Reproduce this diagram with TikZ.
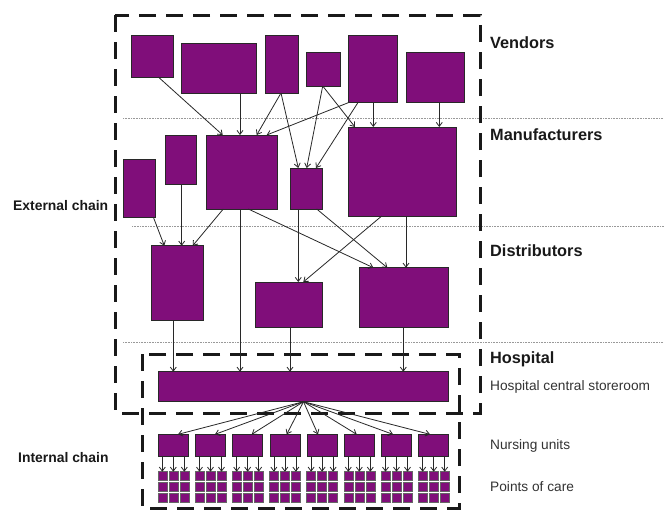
\documentclass[tikz,border=0pt]{standalone}
\usepackage{fontspec}
\setmainfont{Liberation Sans}
\usetikzlibrary{arrows.meta}
\definecolor{purp}{RGB}{128,14,122}
\definecolor{edgec}{RGB}{40,40,40}
\newcommand\pbox[5]{\node[pbox,minimum width={(#4-#2)*1pt},minimum height={(#5-#3)*1pt}] (#1) at ({(#2+#4)/2},{(#3+#5)/2}) {};}
\tikzset{
  pbox/.style={draw=edgec, line width=0.8pt, fill=purp, inner sep=0pt, outer sep=0pt},
  arr/.style={draw=edgec, line width=0.8pt, -{Straight Barb[length=4pt,width=6pt,line width=0.8pt]}},
  dotline/.style={draw=gray!80, line width=0.7pt, dash pattern=on 0.8pt off 0.8pt},
  chain/.style={draw=black!90, line width=3pt, dash pattern=on 17pt off 10pt},
  hdr/.style={font=\fontsize{16.3}{18}\selectfont\bfseries, inner sep=0pt, text=black!90},
  lbl/.style={font=\fontsize{13.7}{16}\selectfont, inner sep=0pt, text=black!80},
  side/.style={font=\fontsize{13.9}{16}\selectfont\bfseries, inner sep=0pt, text=black!90}
}
\begin{document}
\begin{tikzpicture}[x=1pt,y=-1pt]
\useasboundingbox[fill=white] (0,0) rectangle (664,512);
% layer separators
\draw[dotline] (123,118) -- (664,118);
\draw[dotline] (132,226) -- (664,226);
\draw[dotline] (123,342) -- (664,342);
% chain boxes
\draw[chain] (115,15) rectangle (480,413);
\draw[chain] (142,354) rectangle (459,508);
% vendors
\pbox{v1}{131.7}{35}{173.3}{77}
\pbox{v2}{181.7}{43}{256.7}{93}
\pbox{v3}{265}{35}{298.3}{93}
\pbox{v4}{306.7}{52}{340}{86}
\pbox{v5}{348.3}{35}{397.7}{102}
\pbox{v6}{406}{52}{464}{102}
% manufacturers
\pbox{m1}{123.3}{159}{155}{217}
\pbox{m2}{165}{135}{196.7}{184}
\pbox{m3}{206.7}{135}{277.7}{209}
\pbox{m4}{290}{168}{322.7}{209}
\pbox{m5}{348.3}{127}{456}{216}
% distributors
\pbox{d1}{151}{245.7}{203.7}{320}
\pbox{d2}{255}{282}{322}{327}
\pbox{d3}{359}{267.7}{448.7}{327}
% storeroom
\pbox{st}{158.3}{371.7}{448.7}{401.7}
% vendor -> manufacturer
\draw[arr] (v1.south -| 158.3,0) -- (m3.north -| 222.7,0);
\draw[arr] (v2.south -| 240,0) -- (m3.north -| 240,0);
\draw[arr] (v3.south -| 281,0) -- (m3.north -| 256.7,0);
\draw[arr] (v3.south -| 281,0) -- (m4.north -| 298.3,0);
\draw[arr] (v4.south -| 322.7,0) -- (m4.north -| 306.7,0);
\draw[arr] (v4.south -| 322.7,0) -- (m5.north -| 355,0);
\draw[arr] (v5.south -| 350,0) -- (m3.north -| 266.7,0);
\draw[arr] (v5.south -| 358.3,0) -- (m4.north -| 316,0);
\draw[arr] (v5.south -| 373.3,0) -- (m5.north -| 373.3,0);
\draw[arr] (v6.south -| 439.3,0) -- (m5.north -| 439.3,0);
% manufacturer -> distributor / storeroom
\draw[arr] (m1.south -| 153.3,0) -- (d1.north -| 164.3,0);
\draw[arr] (m2.south -| 181.7,0) -- (d1.north -| 181.7,0);
\draw[arr] (m3.south -| 223.3,0) -- (d1.north -| 192.7,0);
\draw[arr] (m3.south -| 240,0) -- (st.north -| 240,0);
\draw[arr] (m3.south -| 248.3,0) -- (d3.north -| 373.3,0);
\draw[arr] (m4.south -| 298.3,0) -- (d2.north -| 298.3,0);
\draw[arr] (m4.south -| 316.7,0) -- (d3.north -| 387.3,0);
\draw[arr] (m5.south -| 381.7,0) -- (d2.north -| 303.3,0);
\draw[arr] (m5.south -| 406,0) -- (d3.north -| 406,0);
% distributor -> storeroom
\draw[arr] (d1.south -| 173.3,0) -- (st.north -| 173.3,0);
\draw[arr] (d2.south -| 290,0) -- (st.north -| 290,0);
\draw[arr] (d3.south -| 403.3,0) -- (st.north -| 403.3,0);
% nursing units and points of care
\foreach \i/\t in {1/178,2/215,3/251.7,4/286.7,5/318,6/356.7,7/393,8/430}{
  \pgfmathsetmacro\cx{173.3+(\i-1)*37.2}
  \node[pbox,minimum width=30pt,minimum height=21.7pt] (n\i) at (\cx,445.2) {};
  \draw[arr] (st.south) -- (n\i.north -| \t,0);
  \foreach \c in {1,2,3}{
    \foreach \r in {1,2,3}{
      \node[pbox,line width=0.6pt,draw=gray!80!black,minimum width=9pt,minimum height=9pt] (p\i-\r-\c) at ({\cx+(\c-2)*11},{476.2+(\r-1)*10.7}) {};
    }
    \draw[arr] (n\i.south -| p\i-1-\c.north) -- (p\i-1-\c.north);
  }
}
% labels
\node[hdr,anchor=base west] (tv) at (490,48.3) {Vendors};
\node[hdr,anchor=base west] (tm) at (490,140) {Manufacturers};
\node[hdr,anchor=base west] (td) at (490,256.7) {Distributors};
\node[hdr,anchor=base west] (th) at (490,363) {Hospital};
\node[lbl,anchor=base west] (ts) at (490,390) {Hospital central storeroom};
\node[lbl,anchor=base west] (tn) at (490,449.8) {Nursing units};
\node[lbl,anchor=base west] (tp) at (490,491.5) {Points of care};
\node[side,anchor=base west] (te) at (13,210) {External chain};
\node[side,anchor=base west] (ti) at (18,462.7) {Internal chain};
\end{tikzpicture}
\end{document}
